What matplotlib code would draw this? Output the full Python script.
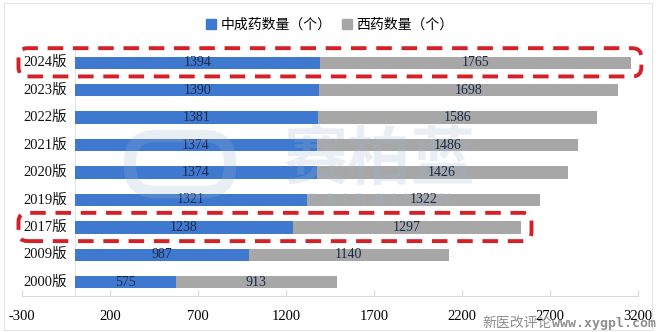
import matplotlib.pyplot as plt
import matplotlib.transforms as mtransforms
from matplotlib.patches import FancyBboxPatch, Rectangle
import numpy as np

plt.rcParams['font.family'] = ['Liberation Serif', 'Noto Sans CJK SC']

# data, top to bottom
editions = ['2024版', '2023版', '2022版', '2021版', '2020版', '2019版', '2017版', '2009版', '2000版']
tcm = [1394, 1390, 1381, 1374, 1374, 1321, 1238, 987, 575]
western = [1765, 1698, 1586, 1486, 1426, 1322, 1297, 1140, 913]
xticks = [-300, 200, 700, 1200, 1700, 2200, 2700, 3200]
highlight = ['2024版', '2017版']

blue = '#3f78cf'
gray = '#a7a7a7'
txt = '#1c2a48'
wm = '#9fb6d3'

fig = plt.figure(figsize=(6.6, 3.32), dpi=100)
ax = fig.add_axes([22 / 660, 1 - 296 / 332, 616 / 660, 247 / 332])

y = np.arange(len(editions))
h = 0.45
ax.barh(y, tcm, height=h, color=blue, zorder=2)
ax.barh(y, western, left=tcm, height=h, color=gray, zorder=2)

for i in range(len(editions)):
    ax.text(tcm[i] / 2, y[i], str(tcm[i]), ha='center', va='center',
            fontsize=10, color=txt, zorder=4)
    ax.text(tcm[i] + western[i] / 2, y[i], str(western[i]), ha='center',
            va='center', fontsize=10, color=txt, zorder=4)
    ax.text(-45, y[i], editions[i], ha='right', va='center', fontsize=10.5,
            color='#111111', zorder=4)

ax.set_xlim(-300, 3200)
ax.set_ylim(len(editions) - 0.5, -0.5)
ax.set_xticks(xticks)
ax.set_xticklabels([str(t) for t in xticks], fontsize=10.5)
ax.set_yticks([])
ax.tick_params(axis='x', direction='in', length=4, color='#d9d9d9', pad=10)
for s in ['top', 'right', 'left']:
    ax.spines[s].set_visible(False)
ax.spines['bottom'].set_color('#d9d9d9')
ax.axvline(0, color='#dde3ea', lw=0.8, zorder=1)

# faint watermark on top of the bars
ax.text(1730, 3.55, '赛柏蓝', fontsize=46, fontweight='bold', color=wm,
        ha='center', va='center', alpha=0.22, zorder=3, family='Noto Sans CJK SC')
ax.text(1730, 5.05, 'S A I B A I L A N', fontsize=12, fontweight='bold', color=wm,
        ha='center', va='center', alpha=0.22, zorder=3, family='DejaVu Sans')

ident = mtransforms.IdentityTransform()
fig.add_artist(FancyBboxPatch((130, 332 - 192), 100, 56,
                              boxstyle='round,pad=0,rounding_size=26',
                              transform=ident, fill=False, edgecolor=wm,
                              lw=9, alpha=0.22, zorder=3))

# legend
handles = [Rectangle((0, 0), 1, 1, color=blue), Rectangle((0, 0), 1, 1, color=gray)]
fig.legend(handles, ['中成药数量（个）', '西药数量（个）'], loc='center',
           bbox_to_anchor=(0.5, 1 - 25 / 332), ncol=2, frameon=False,
           fontsize=10, handlelength=0.7, handleheight=0.7, handletextpad=0.3,
           columnspacing=0.8)

# red dashed highlight boxes around rows, drawn in pixel space
for name in highlight:
    i = editions.index(name)
    total = tcm[i] + western[i]
    x0, y0 = ax.transData.transform((-320, i + 0.5))
    x1, y1 = ax.transData.transform((total + 60, i - 0.53))
    box = FancyBboxPatch((x0, y0), x1 - x0, y1 - y0,
                         boxstyle='round,pad=0,rounding_size=9',
                         transform=ident, fill=False, edgecolor='#d42027',
                         lw=2.8, linestyle=(0, (4, 2.5)), zorder=5)
    fig.add_artist(box)

# outer border
fig.add_artist(Rectangle((4 / 660, 2 / 332), 648 / 660, 327 / 332,
                         transform=fig.transFigure, fill=False,
                         edgecolor='#e3e3e3', lw=0.8))

# source mark, bottom right
url = fig.text(656 / 660, 1 - 323 / 332, 'www.xygpl.com', ha='right', va='center',
               fontsize=9.5, color='#8f8f8f', family='DejaVu Sans Mono',
               fontweight='bold')
ax.annotate('新医改评论', xy=(0, 0.5), xycoords=url, ha='right', va='center',
            fontsize=10, color='#8f8f8f', family='Noto Sans CJK SC',
            annotation_clip=False)

fig.savefig('out.png', dpi=100)
